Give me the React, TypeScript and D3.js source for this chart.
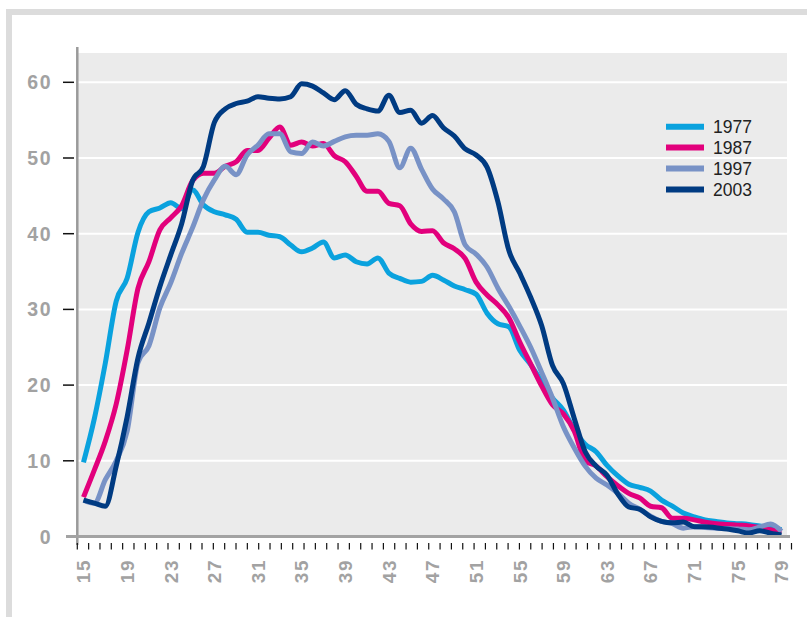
import React from 'react'
import * as d3 from 'd3'

// ages 15..79, one point per year
const ages = [
  15, 16, 17, 18, 19, 20, 21, 22, 23, 24, 25, 26, 27, 28, 29, 30, 31, 32, 33, 34, 35, 36,
  37, 38, 39, 40, 41, 42, 43, 44, 45, 46, 47, 48, 49, 50, 51, 52, 53, 54, 55, 56, 57, 58,
  59, 60, 61, 62, 63, 64, 65, 66, 67, 68, 69, 70, 71, 72, 73, 74, 75, 76, 77, 78, 79,
]
const ageLabels = [15, 19, 23, 27, 31, 35, 39, 43, 47, 51, 55, 59, 63, 67, 71, 75, 79]
const yTicks = [0, 10, 20, 30, 40, 50, 60]

const v1977 = [
  9.8, 15.6, 22.9, 31.1, 34.1, 40.2, 42.9, 43.4, 44.1, 43.3,
  45.8, 43.8, 42.9, 42.5, 41.9, 40.2, 40.2, 39.8, 39.6, 38.5,
  37.6, 38.1, 38.9, 36.8, 37.2, 36.3, 36.0, 36.8, 34.8, 34.1,
  33.6, 33.7, 34.5, 33.9, 33.1, 32.6, 32.0, 29.5, 28.1, 27.7,
  24.6, 22.7, 20.5, 18.3, 16.7, 14.1, 12.2, 11.2, 9.4, 8.0,
  6.9, 6.5, 6.0, 4.8, 4.0, 3.1, 2.6, 2.2, 2.0, 1.8,
  1.7, 1.6, 1.4, 1.2, 0.9,
]
const v1987 = [
  5.2, 8.8, 12.6, 17.5, 24.6, 32.8, 36.3, 40.5, 42.1, 43.7,
  47.0, 48.0, 48.0, 48.9, 49.5, 51.0, 51.0, 52.6, 54.1, 51.7,
  52.1, 51.6, 51.9, 50.3, 49.5, 47.6, 45.6, 45.6, 44.0, 43.7,
  41.3, 40.3, 40.4, 38.8, 38.0, 36.7, 33.6, 31.9, 30.6, 28.9,
  25.7, 22.8, 19.9, 17.4, 16.2, 13.9, 10.0, 9.3, 7.9, 6.7,
  5.7, 5.1, 4.0, 3.8, 2.4, 2.4, 2.2, 1.9, 1.7, 1.6,
  1.5, 1.4, 1.2, 0.9, 0.6,
]
const v1997 = [
  4.8, 4.4, 7.5, 10.0, 13.9, 23.0, 25.2, 30.2, 33.5, 37.4,
  40.8, 44.5, 47.1, 48.9, 47.8, 50.4, 51.7, 53.2, 53.2, 50.8,
  50.6, 52.1, 51.6, 52.2, 52.8, 53.0, 53.0, 53.2, 52.2, 48.7,
  51.3, 48.5, 45.9, 44.6, 42.9, 38.5, 37.3, 35.6, 32.8, 30.4,
  27.8, 25.0, 21.7, 18.3, 14.5, 11.7, 9.3, 7.7, 6.8, 5.7,
  4.4, 3.6, 2.7, 2.0, 1.7, 1.1, 1.3, 1.2, 1.1, 1.05,
  1.0, 0.9, 1.25, 1.65, 0.7,
]
const v2003 = [
  4.8, 4.4, 4.0, 9.3, 15.8, 23.6, 28.2, 33.0, 37.2, 41.3,
  47.0, 48.9, 54.7, 56.5, 57.2, 57.5, 58.1, 57.9, 57.8, 58.1,
  59.8, 59.5, 58.6, 57.7, 58.9, 57.1, 56.5, 56.2, 58.3, 56.0,
  56.3, 54.6, 55.6, 54.0, 52.9, 51.2, 50.4, 48.8, 44.2, 37.8,
  34.8, 31.6, 27.9, 22.6, 20.2, 15.6, 11.2, 9.3, 8.1, 5.6,
  3.9, 3.6, 2.6, 2.0, 1.8, 1.9, 1.3, 1.3, 1.15, 1.0,
  0.75, 0.45, 0.75, 0.45, 0.2,
]

const seriesNames = ['1977', '1987', '1997', '2003']
const seriesValues = [v1977, v1987, v1997, v2003]
const colors = ['#0aa2de', '#e2007c', '#7892c6', '#003b82']

const W = 807
const H = 617
const plot = { left: 78, right: 787, top: 53, bottom: 536.5 }
const labelGray = '#a2a2a2'
const numFont = "'Liberation Sans', Arial, sans-serif"

export default function App() {
  const x = d3.scalePoint<number>().domain(ages).range([83.5, 781.5])
  const y = d3.scaleLinear().domain([0, 60]).range([plot.bottom, 82.3])
  // minor tick marks along the category axis
  const tickX = d3.scaleLinear().domain([0, 63]).range([77.3, 791.5])

  const line = d3
    .line<number>()
    .x((_, i) => x(ages[i]) as number)
    .y((d) => y(d))
    .curve(d3.curveMonotoneX)

  return (
    <svg
      width={W}
      height={H}
      style={{ position: 'absolute', left: 0, top: 0, background: '#fff' }}
    >
      {/* outer frame */}
      <rect x={9} y={12} width={W + 20} height={H + 20} fill="#fff" stroke="#dcdcdc" strokeWidth={6} />

      {/* plot background */}
      <rect
        x={plot.left}
        y={plot.top}
        width={plot.right - plot.left}
        height={plot.bottom - plot.top}
        fill="#ebebeb"
      />

      {/* gridlines */}
      {yTicks.slice(1).map((t) => (
        <line key={t} x1={plot.left} x2={plot.right} y1={y(t)} y2={y(t)} stroke="#fff" strokeWidth={2} />
      ))}

      {/* y axis */}
      <line x1={77.3} x2={77.3} y1={47} y2={545} stroke="#9a9a9a" strokeWidth={2.5} />
      {yTicks.slice(1).map((t) => (
        <line key={t} x1={63} x2={74} y1={y(t)} y2={y(t)} stroke="#111" strokeWidth={1.5} />
      ))}
      {yTicks.map((t) => (
        <text
          key={t}
          x={52}
          y={y(t)}
          dy="0.36em"
          textAnchor="end"
          fill={labelGray}
          fontFamily={numFont}
          fontWeight="bold"
          fontSize={19.5}
          letterSpacing={1.5}
        >
          {t}
        </text>
      ))}

      {/* lines */}
      {seriesValues.map((vals, i) => (
        <path
          key={seriesNames[i]}
          d={line(vals) || ''}
          fill="none"
          stroke={colors[i]}
          strokeWidth={5}
          strokeLinejoin="round"
          strokeLinecap="butt"
        />
      ))}

      {/* x axis */}
      <line x1={66} x2={790} y1={plot.bottom} y2={plot.bottom} stroke="#a3a3a3" strokeWidth={3} />
      {d3.range(0, 64).map((k) => (
        <line key={k} x1={tickX(k)} x2={tickX(k)} y1={543} y2={549.5} stroke="#111" strokeWidth={1.2} />
      ))}
      {ageLabels.map((a) => (
        <text
          key={a}
          transform={`translate(${x(a)},559) rotate(-90)`}
          dy="0.36em"
          textAnchor="end"
          fill={labelGray}
          fontFamily={numFont}
          fontWeight="bold"
          fontSize={19}
          letterSpacing={1.5}
        >
          {a}
        </text>
      ))}

      {/* legend */}
      {seriesNames.map((name, i) => {
        const ly = 126.7 + i * 20.9
        return (
          <g key={name}>
            <line x1={666} x2={704} y1={ly} y2={ly} stroke={colors[i]} strokeWidth={6} />
            <text
              x={713}
              y={ly}
              dy="0.36em"
              fill="#222"
              fontFamily="'Liberation Sans Narrow', 'Arial Narrow', 'Liberation Sans', Arial, sans-serif"
              fontSize={17.5}
            >
              {name}
            </text>
          </g>
        )
      })}
    </svg>
  )
}
